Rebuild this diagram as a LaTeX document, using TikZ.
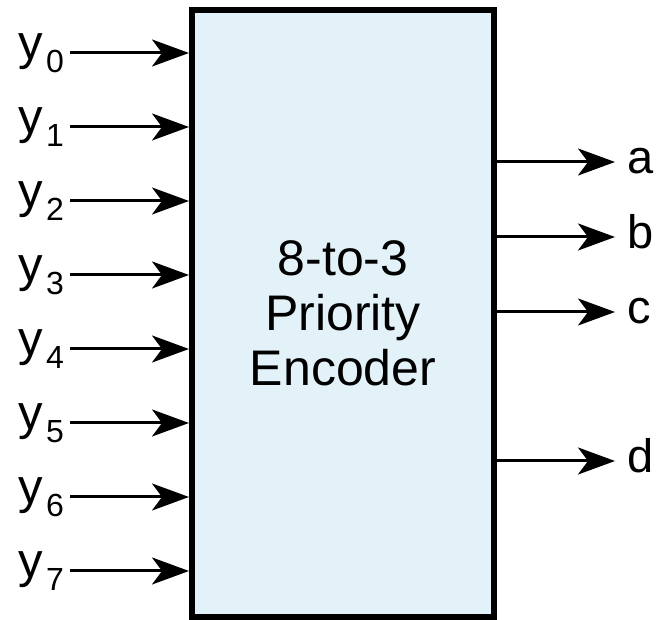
\documentclass[tikz,border=0pt]{standalone}
\usepackage{fontspec}
\setmainfont{Liberation Sans}
\usetikzlibrary{arrows.meta}
\definecolor{boxfill}{RGB}{227,242,248}
\tikzset{
  arr/.style={line width=3pt, -{Stealth[length=37pt,width=27pt,inset=10pt]}},
  lbl/.style={inner sep=0pt, font=\fontsize{49}{49}\selectfont},
  enc/.style={draw=black, line width=6pt, fill=boxfill, minimum width=302pt, minimum height=607pt, inner sep=0pt, align=center, font=\fontsize{50}{55}\selectfont}
}
\newcommand{\ysub}[1]{y\kern3pt\raisebox{-13pt}{\fontsize{32}{32}\selectfont #1}}
\begin{document}
\begin{tikzpicture}[x=1pt,y=1pt]
\useasboundingbox (0,0) rectangle (656,620);
\node[enc] (box) at (343,306.5) {8-to-3\\Priority\\Encoder};
\foreach \i/\py in {0/53,1/127,2/201,3/275,4/349,5/423,6/497,7/571}{
  \coordinate (in\i) at (70,620-\py);
  \node[lbl, anchor=base east] (l\i) at (64,620-\py-7) {\ysub{\i}};
  \draw[arr] (in\i) -- (box.west |- in\i);
}
\foreach \n/\py in {a/162,b/237,c/312,d/461}{
  \coordinate (out\n) at (615,620-\py);
  \node[lbl, anchor=base west, font=\fontsize{47}{47}\selectfont] (o\n) at (627,620-\py-12) {\n};
  \draw[arr] (box.east |- out\n) -- (out\n);
}
\end{tikzpicture}
\end{document}
